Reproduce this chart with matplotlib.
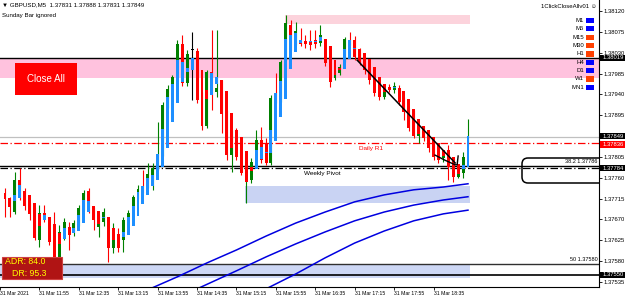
"""
GBPUSD M5 chart, MT4 style, with zones, pivots and heiken ashi overlay.
"""

import matplotlib
matplotlib.use("Agg")
import matplotlib.pyplot as plt
import numpy as np
import pandas as pd
from matplotlib.patches import Rectangle, FancyBboxPatch
from matplotlib.transforms import IdentityTransform

# bars from 31 Mar 11:20, 5 minute candles
opens = [1.37727, 1.37714, 1.37686, 1.37755, 1.37731, 1.37699, 1.37682, 1.37626, 1.37684, 1.37669,
         1.37626, 1.37587, 1.37643, 1.37654, 1.37641, 1.37662, 1.37697, 1.37731, 1.37690, 1.37654,
         1.37664, 1.37664, 1.37608, 1.37636, 1.37626, 1.37669, 1.37682, 1.37719, 1.37736, 1.37744,
         1.37760, 1.37781, 1.37811, 1.37917, 1.37954, 1.37978, 1.38049, 1.37965, 1.38036, 1.38034,
         1.37939, 1.37872, 1.37988, 1.37945, 1.37967, 1.37900, 1.37809, 1.37857, 1.37805, 1.37755,
         1.37755, 1.37794, 1.37842, 1.37835, 1.37792, 1.37935, 1.37928, 1.38019, 1.38090, 1.38068,
         1.38053, 1.38053, 1.38053, 1.38058, 1.38051, 1.38051, 1.37997, 1.37976, 1.37986, 1.38019,
         1.38058, 1.38058, 1.38036, 1.38010, 1.37997, 1.37971, 1.37960, 1.37935, 1.37956, 1.37950,
         1.37954, 1.37928, 1.37902, 1.37868, 1.37850, 1.37865, 1.37846, 1.37831, 1.37809, 1.37803,
         1.37820, 1.37783, 1.37762, 1.37770, 1.37831]
highs = [1.37738, 1.37719, 1.37772, 1.37781, 1.37738, 1.37706, 1.37697, 1.37701, 1.37701, 1.37673,
         1.37686, 1.37658, 1.37673, 1.37664, 1.37669, 1.37701, 1.37734, 1.37738, 1.37697, 1.37680,
         1.37695, 1.37673, 1.37662, 1.37652, 1.37675, 1.37690, 1.37723, 1.37744, 1.37777, 1.37792,
         1.37792, 1.37880, 1.37924, 1.37960, 1.37982, 1.38058, 1.38068, 1.38036, 1.38075, 1.38040,
         1.37945, 1.37993, 1.38079, 1.38079, 1.37971, 1.37906, 1.37863, 1.37868, 1.37809, 1.37781,
         1.37803, 1.37863, 1.37870, 1.37846, 1.37939, 1.37986, 1.38014, 1.38112, 1.38101, 1.38096,
         1.38084, 1.38068, 1.38079, 1.38079, 1.38090, 1.38058, 1.38014, 1.37993, 1.38006, 1.38064,
         1.38075, 1.38066, 1.38040, 1.38019, 1.38004, 1.37978, 1.37967, 1.37963, 1.37963, 1.37967,
         1.37960, 1.37935, 1.37911, 1.37906, 1.37872, 1.37872, 1.37852, 1.37842, 1.37820, 1.37820,
         1.37831, 1.37798, 1.37781, 1.37816, 1.37888]
lows = [1.37675, 1.37675, 1.37682, 1.37712, 1.37690, 1.37669, 1.37626, 1.37611, 1.37664, 1.37615,
        1.37582, 1.37578, 1.37626, 1.37604, 1.37634, 1.37656, 1.37690, 1.37684, 1.37647, 1.37632,
        1.37656, 1.37578, 1.37598, 1.37600, 1.37600, 1.37656, 1.37673, 1.37714, 1.37727, 1.37738,
        1.37734, 1.37777, 1.37807, 1.37911, 1.37932, 1.37971, 1.37958, 1.37958, 1.37928, 1.37922,
        1.37863, 1.37868, 1.37906, 1.37935, 1.37857, 1.37798, 1.37772, 1.37798, 1.37766, 1.37706,
        1.37749, 1.37783, 1.37792, 1.37788, 1.37788, 1.37922, 1.37924, 1.38014, 1.38036, 1.38047,
        1.38045, 1.38040, 1.38036, 1.38040, 1.38045, 1.38001, 1.37956, 1.37971, 1.37982, 1.38010,
        1.38047, 1.38014, 1.38004, 1.37984, 1.37963, 1.37937, 1.37928, 1.37930, 1.37945, 1.37943,
        1.37917, 1.37885, 1.37861, 1.37846, 1.37835, 1.37839, 1.37816, 1.37798, 1.37792, 1.37794,
        1.37755, 1.37751, 1.37760, 1.37760, 1.37831]
closes = [1.37714, 1.37697, 1.37755, 1.37731, 1.37699, 1.37682, 1.37630, 1.37684, 1.37669, 1.37621,
          1.37587, 1.37643, 1.37664, 1.37636, 1.37662, 1.37695, 1.37727, 1.37688, 1.37669, 1.37671,
          1.37686, 1.37608, 1.37636, 1.37608, 1.37669, 1.37684, 1.37719, 1.37736, 1.37731, 1.37768,
          1.37781, 1.37811, 1.37917, 1.37952, 1.37978, 1.38049, 1.37965, 1.38027, 1.38036, 1.37928,
          1.37872, 1.37988, 1.37971, 1.37954, 1.37898, 1.37809, 1.37857, 1.37805, 1.37770, 1.37762,
          1.37794, 1.37842, 1.37798, 1.37792, 1.37932, 1.37926, 1.38010, 1.38094, 1.38043, 1.38077,
          1.38049, 1.38049, 1.38047, 1.38049, 1.38068, 1.38008, 1.37967, 1.37986, 1.37999, 1.38060,
          1.38053, 1.38021, 1.38010, 1.37993, 1.37971, 1.37943, 1.37935, 1.37956, 1.37950, 1.37958,
          1.37924, 1.37902, 1.37868, 1.37850, 1.37865, 1.37846, 1.37824, 1.37805, 1.37798, 1.37813,
          1.37783, 1.37762, 1.37772, 1.37805, 1.37849]

bar_start = pd.Timestamp("2021-03-31 11:20")
time_ticks = ["11:55", "12:35", "13:15", "13:55", "14:35", "15:15", "15:55",
              "16:35", "17:15", "17:55", "18:35"]

# moving average lines (bar index, price)
ma_upper_x = [29, 35, 41, 47, 53, 59, 65, 71, 77, 83, 89, 94]
ma_upper = [1.37518, 1.37546, 1.37576, 1.37604, 1.37634, 1.37662, 1.37686, 1.37708,
            1.37723, 1.37734, 1.37740, 1.37747]
ma_mid_x = [39, 47, 53, 59, 65, 71, 77, 83, 89, 94]
ma_mid = [1.37520, 1.37559, 1.37589, 1.37617, 1.37643, 1.37667, 1.37686, 1.37701, 1.37712, 1.37719]
ma_low_x = [53, 59, 65, 71, 77, 83, 89, 94]
ma_low = [1.37520, 1.37552, 1.37587, 1.37619, 1.37645, 1.37667, 1.37682, 1.37690]

# levels
resist_top, resist_bottom = 1.38019, 1.37976
supply_top, supply_bottom = 1.38112, 1.38092
demand_top, demand_bottom = 1.37742, 1.37706
low_zone_top, low_zone_bottom = 1.37572, 1.37544
bid = 1.37849
daily_r1 = 1.37836
fib_382 = 1.37785
weekly_pivot = 1.37781
fib_50 = 1.37574
low_line = 1.37550

# hand drawn trend line and hook
trend_x = [71.5, 91.4]
trend_y = [1.38014, 1.37792]
hook_x = [87.3, 89.3, 91.4, 91.8, 92.0]
hook_y = [1.37809, 1.37798, 1.37788, 1.37788, 1.37807]

tf_names = ["M1", "M5", "M15", "M30", "H1", "H4", "D1", "W1", "MN1"]
tf_up = [True, True, False, False, False, True, True, False, True]

W, H = 625, 301
plt.rcParams['font.family'] = ['Liberation Sans', 'DejaVu Sans']

fig = plt.figure(figsize=(W / 100, H / 100), dpi=100)
fig.patch.set_facecolor('white')
ax = fig.add_axes([0, 14 / H, 599 / W, 287 / H])
ax.set_facecolor('none')

o = np.array(opens); h = np.array(highs); l = np.array(lows); c = np.array(closes)
idx = np.arange(len(o))

# zones
ax.axhspan(resist_bottom, resist_top, color='#ffc2de', zorder=0, lw=0)
ax.add_patch(Rectangle((56.8, supply_bottom), 94.4 - 56.8, supply_top - supply_bottom,
                       color='#fcd3dc', lw=0, zorder=0))
ax.add_patch(Rectangle((48.8, demand_bottom), 94.4 - 48.8, demand_top - demand_bottom,
                       color='#c9d3f3', lw=0, zorder=0))
ax.add_patch(Rectangle((-1.1, low_zone_bottom), 95.5, low_zone_top - low_zone_bottom,
                       color='#cdd7f5', lw=0, zorder=0))

# level lines
ax.axhline(resist_top, color='black', lw=1.0, zorder=1)
ax.axhline(bid, color='#c0c0c0', lw=0.9, zorder=1)
ax.axhline(daily_r1, color='red', lw=0.9, dashes=(6, 2, 1, 2), zorder=1)
ax.axhline(fib_382, color='black', lw=1.0, zorder=1)
ax.axhline(weekly_pivot, color='black', lw=0.9, dashes=(6, 2, 1, 2), zorder=1)
ax.axhline(fib_50, color='#303030', lw=1.0, zorder=1)
ax.axhline(low_line, color='black', lw=1.2, zorder=1)

# moving averages
for xs, ys in [(ma_upper_x, ma_upper), (ma_mid_x, ma_mid), (ma_low_x, ma_low)]:
    ax.plot(xs, ys, color='#0000e0', lw=1.1, zorder=2)

# candles
up = c > o
doji = c == o
col = np.where(up, '#008000', '#ff0000')
col = np.where(doji, 'black', col)
ax.vlines(idx, l, h, colors=col, lw=0.8, zorder=3)
body_lo = np.minimum(o, c)
body_h = np.maximum(np.abs(c - o), 0.00002)
ax.bar(idx, body_h, bottom=body_lo, width=0.6, color=col, lw=0, zorder=3)

# heiken ashi bodies
ha_close = (o + h + l + c) / 4
ha_open = np.zeros_like(ha_close)
ha_open[0] = (o[0] + c[0]) / 2
for i in range(1, len(o)):
    ha_open[i] = (ha_open[i - 1] + ha_close[i - 1]) / 2
ha_col = np.where(ha_close > ha_open, '#1e8fff', '#ff0000')
ax.bar(idx, np.maximum(np.abs(ha_close - ha_open), 0.00002),
       bottom=np.minimum(ha_open, ha_close), width=0.6, color=ha_col, lw=0, zorder=4)

# trend line
ax.plot(trend_x, trend_y, color='black', lw=1.1, zorder=5)
ax.plot(hook_x, hook_y, color='black', lw=1.0, zorder=5)

# labels on lines
ax.text(74.3, 1.37824, "Daily R1", color='red', fontsize=4.6, ha='center', va='center', zorder=6)
ax.text(64.4, 1.37770, "Weekly Pivot", color='black', fontsize=4.6, ha='center', va='center', zorder=6)
ax.text(120.3, fib_382 + 0.00005, "38.2 1.37786", fontsize=4.0, ha='right', va='bottom', zorder=6)
ax.text(120.3, fib_50 + 0.00004, "50 1.37580", fontsize=4.0, ha='right', va='bottom', zorder=6)

# rounded box around the fib label
rb = FancyBboxPatch((522, H - 183), 90, 25, boxstyle="round,pad=0,rounding_size=6",
                    transform=IdentityTransform(), fill=False, ec='black', lw=1.1, zorder=6)
ax.add_patch(rb)
rb.set_clip_path(ax.patch)

# axes
ax.set_xlim(-1.015, 120.6)
ax.set_ylim(1.37524, 1.38144)
for s in ['left', 'top']:
    ax.spines[s].set_visible(False)
ax.spines['right'].set_linewidth(0.8)
ax.spines['bottom'].set_linewidth(0.8)

ax.yaxis.tick_right()
yt = np.round(np.arange(1.37535, 1.38121, 0.00045), 5)
ax.set_yticks(yt)
ax.set_yticklabels([f"{v:.5f}" for v in yt])
ax.tick_params(axis='y', direction='out', length=2, width=0.6, labelsize=4.2, pad=1.5)

tick_pos = [-1.0] + [(pd.Timestamp("2021-03-31 " + t) - bar_start) / pd.Timedelta(minutes=5)
                     for t in time_ticks]
tick_lab = ["31 Mar 2021"] + ["31 Mar " + t for t in time_ticks]
ax.set_xticks(tick_pos)
ax.set_xticklabels(tick_lab)
ax.tick_params(axis='x', direction='out', length=2, width=0.6, labelsize=3.7, pad=1)
for lb in ax.get_xticklabels():
    lb.set_ha('left')

# highlighted price tags on the axis (boxes drawn to the image edge)
ytr = ax.get_yaxis_transform()
for val, txt, fc, dy in [(resist_top, "1.38019", 'black', 0), (bid, "1.37849", 'black', 0.00001),
                         (daily_r1, "1.37836", 'red', -0.00004), (weekly_pivot, "1.37784", 'black', 0),
                         (low_line, "1.37550", 'black', 0)]:
    ax.add_patch(Rectangle((1.002, val + dy - 0.000072), 0.05, 0.000144, transform=ytr,
                           fc=fc, ec='none', zorder=7, clip_on=False))
    ax.text(1.006, val + dy, txt, transform=ytr, fontsize=4.2, color='white', ha='left', va='center',
            zorder=8, clip_on=False)


def fx(x):
    return x / W


def fy(y):
    return 1 - y / H


# header
fig.text(fx(2), fy(5), "\u25bc GBPUSD,M5  1.37831 1.37888 1.37831 1.37849", fontsize=4.4, va='center')
fig.text(fx(2), fy(15), "Sunday Bar ignored", fontsize=4.4, va='center')
fig.text(fx(541), fy(6), "1ClickCloseAllv01 \u263a", fontsize=4.3, va='center')

# timeframe panel
for k, (name, isup) in enumerate(zip(tf_names, tf_up)):
    yy = 20.5 + k * 8.35
    fig.text(fx(584), fy(yy), name, fontsize=4.3, ha='right', va='center')
    fig.patches.append(Rectangle((fx(586), fy(yy + 2.6)), 7.5 / W, 5.2 / H,
                                 transform=fig.transFigure, figure=fig,
                                 fc='#0000ff' if isup else '#ff4000', ec='none'))

# close all button
fig.patches.append(Rectangle((fx(15), fy(95)), 62 / W, 32 / H, transform=fig.transFigure,
                             figure=fig, fc='#ff0000', ec='none'))
fig.text(fx(46), fy(79), "Close All", fontsize=7, color='white', ha='center', va='center')

# ADR box
fig.patches.append(Rectangle((fx(2), fy(279)), 60 / W, 22 / H, transform=fig.transFigure,
                             figure=fig, fc='#b01414', ec='#d04040', lw=0.8))
fig.text(fx(5), fy(262), "ADR: 84.0", fontsize=6.3, color='#ffff00', va='center')
fig.text(fx(12), fy(273), "DR: 95.3", fontsize=6.3, color='#ffff00', va='center')

plt.savefig("out.png", dpi=100)
